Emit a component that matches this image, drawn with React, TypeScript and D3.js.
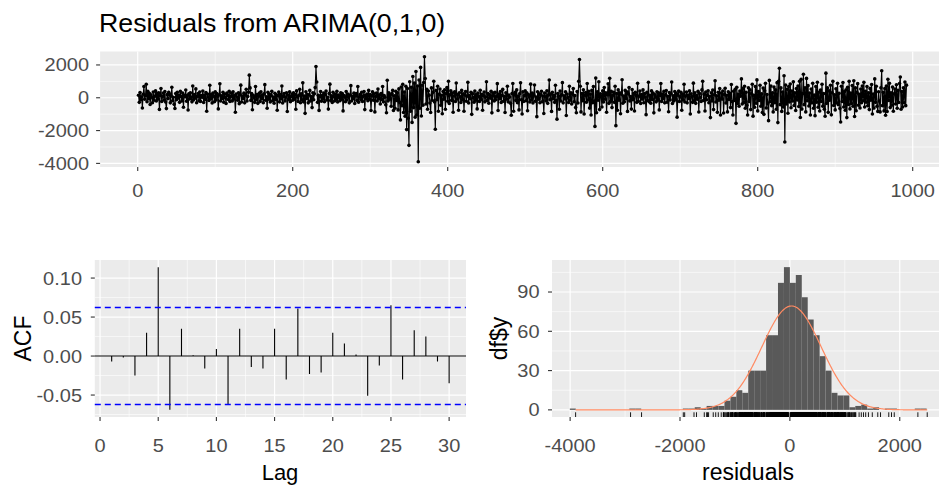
import React from 'react';
import * as d3 from 'd3';

// ---------- DATA ----------
const RESIDUALS: number[] = [
150,-280,320,-120,60,-620,210,690,-90,130,820,-240,390,-60,270,-410,180,40,-300,350,
-150,90,420,-200,250,-80,310,-710,140,560,-230,70,290,-140,380,-260,-660,190,-50,330,
220,-310,110,640,-180,30,-400,-650,260,-120,340,-20,170,-280,400,80,-190,290,-580,150,
60,470,-210,130,-750,240,-70,310,20,-250,720,-140,200,-30,540,-300,90,260,-180,350,
-220,140,30,410,-290,170,-100,320,-820,230,50,-160,760,-60,190,-320,280,100,-240,360,
-130,250,70,-680,180,850,-200,120,-40,330,-270,210,10,-350,290,150,-110,400,-230,80,
270,-190,360,-80,140,-880,230,50,-150,310,-360,190,770,-260,110,-50,280,-310,170,520,
-200,80,340,1380,600,-160,250,-730,150,30,-280,690,-120,200,-340,90,290,-220,370,-60,
160,-300,240,800,-150,60,-640,330,-90,210,-260,140,390,-180,50,-330,270,-120,180,-760,
120,350,-250,190,-70,720,-320,100,260,-190,40,310,-840,170,-100,360,-240,80,230,-150,
300,-80,190,-700,420,60,-220,150,520,-300,240,-130,910,-250,110,-950,360,-40,200,-310,
170,450,-190,80,-600,310,-120,240,620,1900,960,-280,150,-770,60,380,-210,130,-70,290,
-240,190,410,-130,30,-690,260,830,-170,120,-290,340,70,-200,230,-100,400,-260,160,20,
-180,310,-90,250,-800,140,60,-240,380,-140,220,40,-310,170,740,-200,90,-60,280,-350,
130,260,-170,680,-270,50,190,-120,340,-220,100,380,-720,150,-40,230,-180,450,-90,200,
-780,110,360,-150,240,-860,80,290,-200,530,-60,170,-380,260,-110,690,-250,140,30,-430,
-915,1070,-200,310,-90,180,-520,260,450,-780,120,-640,390,-170,300,-740,540,-280,-1350,660,
-480,820,-900,350,-1120,700,-1940,560,-1250,-2900,980,-820,640,-1500,1300,-600,890,-1180,1600,-1050,
720,-3900,1080,-640,1850,-1110,760,-450,930,2500,1170,-380,520,-700,410,160,-320,-900,600,-150,
340,1010,-260,-1915,450,-120,700,-820,210,530,-460,150,-970,380,-90,480,-700,260,620,-210,
1010,-350,180,430,-160,290,-880,110,360,-230,900,-80,200,-760,310,60,-290,450,-130,240,
-820,170,380,-210,90,940,-320,140,-60,330,-1010,250,20,-270,410,-150,190,-680,290,80,
-220,460,-110,210,-760,130,350,-250,40,980,-170,260,-330,180,-20,390,-920,120,280,-190,
340,-120,70,860,-780,220,-60,380,-290,150,510,-210,90,-900,300,-80,700,-250,170,40,
-330,-1070,260,870,-820,190,330,-160,480,-300,100,-740,250,910,-120,-990,360,-230,140,420,
-180,310,-790,200,80,-260,830,-140,290,-320,160,780,-210,40,-1150,370,-90,240,-300,180,
390,-240,110,-960,280,60,-190,430,-340,170,1080,-120,220,-830,330,-60,150,-280,760,-170,
-1303,260,90,-700,410,-200,180,920,-310,120,-70,360,-1080,230,20,-290,700,-150,300,-380,
210,560,-240,130,-600,-915,380,-320,1000,2330,700,-860,250,-180,490,-990,160,320,-270,870,
-140,400,-630,220,-1050,450,-300,680,-200,-1745,1200,-910,360,-150,980,-720,240,90,-560,420,
-260,630,-90,310,-880,180,850,-340,1190,-220,400,-600,150,340,-280,700,-1700,260,-760,480,
-150,300,-970,210,1100,-330,110,-240,450,-60,370,-830,230,620,-190,80,-690,500,-120,260,
-810,340,160,-280,880,-210,90,410,-350,190,-80,480,-300,250,40,-1030,330,-170,950,-240,
150,-330,420,-110,280,-920,200,60,-250,370,-150,310,-740,140,870,-220,230,-60,390,-310,
180,440,-270,90,-850,320,-130,250,960,-350,120,-200,380,-90,270,-1180,160,410,-230,60,
330,-760,200,-140,820,-260,110,350,-310,170,-50,420,-990,240,80,-280,890,-190,300,-340,
140,-90,390,-870,260,30,-230,480,1000,-170,220,-810,350,-120,160,430,-300,90,-1210,310,
-200,470,-720,180,1040,-260,120,-890,340,-150,560,-1050,290,-80,410,-930,200,580,-320,150,
-860,360,-110,270,-600,810,-230,-1050,390,-170,520,-1558,640,-350,230,-520,410,100,1150,-380,
560,-290,700,-640,330,-460,-1050,610,-220,480,-720,260,820,-1120,150,-580,690,-330,1090,-800,
380,-170,760,-520,240,-900,590,-1010,430,880,-620,200,-360,-1395,1060,-240,710,-480,310,-860,
650,-300,480,-700,920,-1515,1000,1800,-420,600,-830,350,-560,1340,-2700,780,-380,520,-940,690,
-250,840,-610,410,-200,970,-470,300,-780,560,-140,720,-530,1000,-1200,1120,-690,250,1430,-420,
600,-860,1180,-180,740,-500,290,-1050,530,-310,880,-640,160,-1090,690,-270,950,-580,340,-810,
470,-230,820,-510,250,-700,-1130,1500,-340,600,-890,420,-150,760,-1040,310,1000,-470,180,-740,
550,-310,880,-420,270,-650,-1480,700,-230,930,-560,380,-760,490,-1210,640,-410,1000,-680,290,
-350,750,-520,1040,-1140,600,-790,330,860,-460,210,-620,530,-300,720,-180,940,-560,400,-270,
680,-490,300,-720,570,-150,810,-990,230,-630,1150,-280,700,-520,-830,360,-200,-860,610,1650,
-480,330,-800,560,-1070,720,-840,1130,-170,880,-600,300,-460,650,-820,240,530,-380,790,-640,
450,-290,870,1260,-700,380,-560,610,-300,960,-480,770
];

const ACF_LAGS = [1,2,3,4,5,6,7,8,9,10,11,12,13,14,15,16,17,18,19,20,21,22,23,24,25,26,27,28,29,30];
const ACF_VALUES = [-0.007,-0.002,-0.025,0.030,0.114,-0.069,0.035,0.001,-0.016,0.009,-0.062,0.035,-0.014,-0.016,0.035,-0.030,0.061,-0.023,-0.021,0.030,0.016,0.002,-0.051,-0.012,0.065,-0.030,0.033,0.025,-0.007,-0.035];

const HIST_FIRST_BIN = -37;
const HIST_BIN_WIDTH = 108.25;
const HIST_COUNTS = [
1,0,0,0,0,0,0,0,0,0,1,1,0,0,0,0,0,0,0,1,1,2,1,3,3,3,7,10,15,13,30,30,30,57,57,97,109,
97,103,86,69,57,41,30,13,11,11,2,3,4,1,2,0,1,1,0,0,0,1,1
];
const NORMAL_MEAN = 30;
const NORMAL_SD = 540;

const TITLE = 'Residuals from ARIMA(0,1,0)';
const TS_X_TICKS = [0, 200, 400, 600, 800, 1000];
const TS_X_MINOR = [100, 300, 500, 700, 900];
const TS_Y_TICKS = [-4000, -2000, 0, 2000];
const TS_Y_MINOR = [-3000, -1000, 1000];
const ACF_X_TICKS = [0, 5, 10, 15, 20, 25, 30];
const ACF_X_MINOR = [2.5, 7.5, 12.5, 17.5, 22.5, 27.5];
const ACF_Y_TICKS = [-0.05, 0, 0.05, 0.1];
const ACF_Y_LABELS = ['-0.05', '0.00', '0.05', '0.10'];
const ACF_Y_MINOR = [-0.075, -0.025, 0.025, 0.075];
const HIST_X_TICKS = [-4000, -2000, 0, 2000];
const HIST_X_MINOR = [-3000, -1000, 1000];
const HIST_Y_TICKS = [0, 30, 60, 90];
const HIST_Y_MINOR = [15, 45, 75, 105];

// ---------- HELPERS ----------
const expand = (lo: number, hi: number, f = 0.05): [number, number] => [lo - (hi - lo) * f, hi + (hi - lo) * f];
const FONT = "'Liberation Sans', Arial, Helvetica, sans-serif";
const TICK_COL = '#4D4D4D';
const TICK_FS = 18.5;
const AXIS_FS = 23;
const SX = 1.08; // horizontal glyph stretch seen in the reference
const crisp = (v: number) => Math.round(v - 0.5) + 0.5;

function SText({ x, y, anchor = 'start', size, fill = '#000', sx = SX, children }: any) {
  return (
    <text transform={`translate(${x},${y}) scale(${sx},1)`} textAnchor={anchor}
      fontFamily={FONT} fontSize={size} fill={fill}>{children}</text>
  );
}

function Grid({ x0, x1, y0, y1, xs, ys, xMinor, yMinor, xMajor, yMajor }: any) {
  return (
    <g>
      <rect x={x0} y={y1} width={x1 - x0} height={y0 - y1} fill="#EBEBEB" />
      {xMinor.map((v: number, i: number) => (
        <line key={'xm' + i} x1={xs(v)} x2={xs(v)} y1={y0} y2={y1} stroke="#fff" strokeWidth={0.6} />
      ))}
      {yMinor.map((v: number, i: number) => (
        <line key={'ym' + i} x1={x0} x2={x1} y1={ys(v)} y2={ys(v)} stroke="#fff" strokeWidth={0.6} />
      ))}
      {xMajor.map((v: number, i: number) => (
        <line key={'xM' + i} x1={xs(v)} x2={xs(v)} y1={y0} y2={y1} stroke="#fff" strokeWidth={1.2} />
      ))}
      {yMajor.map((v: number, i: number) => (
        <line key={'yM' + i} x1={x0} x2={x1} y1={ys(v)} y2={ys(v)} stroke="#fff" strokeWidth={1.2} />
      ))}
    </g>
  );
}

function Axes({ x0, y0, xs, ys, xTicks, yTicks, xLabels, yLabels, xLabelY, yLabelX }: any) {
  return (
    <g>
      {xTicks.map((v: number, i: number) => (
        <g key={'xt' + i}>
          <line x1={xs(v)} x2={xs(v)} y1={y0} y2={y0 + 4} stroke="#333" strokeWidth={1.1} />
          <SText x={xs(v)} y={xLabelY} anchor="middle" size={TICK_FS} fill={TICK_COL}>{xLabels[i]}</SText>
        </g>
      ))}
      {yTicks.map((v: number, i: number) => (
        <g key={'yt' + i}>
          <line x1={x0 - 4} x2={x0} y1={ys(v)} y2={ys(v)} stroke="#333" strokeWidth={1.1} />
          <SText x={yLabelX} y={ys(v) + TICK_FS * 0.35} anchor="end" size={TICK_FS} fill={TICK_COL}>{yLabels[i]}</SText>
        </g>
      ))}
    </g>
  );
}

export default function App() {
  const W = 939, H = 485;
  const n = RESIDUALS.length;

  // ---- top: residual time series ----
  const tX0 = 100.1, tX1 = 944.9, tY0 = 167, tY1 = 51.5;
  const xTs = d3.scaleLinear().domain(expand(1, n)).range([tX0, tX1]);
  const [rmin, rmax] = d3.extent(RESIDUALS) as [number, number];
  const yTs = d3.scaleLinear().domain(expand(rmin, rmax)).range([tY0, tY1]);
  const tsLine = d3.line<number>().x((_, i) => xTs(i + 1)).y((d) => yTs(d))(RESIDUALS) || '';

  // ---- bottom left: ACF ----
  const aX0 = 94.8, aX1 = 466, aY0 = 417, aY1 = 260;
  const ci = 1.959964 / Math.sqrt(n);
  const xAcf = d3.scaleLinear().domain(expand(d3.min(ACF_LAGS)!, d3.max(ACF_LAGS)!)).range([aX0, aX1]);
  const yAcf = d3
    .scaleLinear()
    .domain(expand(Math.min(d3.min(ACF_VALUES)!, -ci), Math.max(d3.max(ACF_VALUES)!, ci)))
    .range([aY0, aY1]);
  const ciPath = [ci, -ci].map((c) => `M${aX0},${crisp(yAcf(c))}H${aX1}`).join('');

  // ---- bottom right: histogram ----
  const hX0 = 552, hX1 = 944.5, hY0 = 417, hY1 = 260;
  const bins = HIST_COUNTS.map((c, j) => ({
    x0: (HIST_FIRST_BIN + j) * HIST_BIN_WIDTH,
    x1: (HIST_FIRST_BIN + j + 1) * HIST_BIN_WIDTH,
    c,
  }));
  const xH = d3.scaleLinear().domain(expand(bins[0].x0, bins[bins.length - 1].x1)).range([hX0, hX1]);
  const yH = d3.scaleLinear().domain(expand(0, d3.max(HIST_COUNTS)!)).range([hY0, hY1]);
  const grid = d3.range(512).map((k) => rmin + ((rmax - rmin) * k) / 511);
  const dnorm = (x: number) =>
    Math.exp(-0.5 * ((x - NORMAL_MEAN) / NORMAL_SD) ** 2) / (NORMAL_SD * Math.sqrt(2 * Math.PI));
  const curve =
    d3
      .line<number>()
      .x((x) => xH(x))
      .y((x) => yH(n * HIST_BIN_WIDTH * dnorm(x)))(grid) || '';
  const rugLen = 0.03 * (hY0 - hY1);

  return (
    <div style={{ position: 'absolute', left: 0, top: 0 }}>
      <svg width={W} height={H} viewBox={`0 0 ${W} ${H}`} style={{ display: 'block', background: '#fff' }}>
        {/* title */}
        <SText x={99} y={32} size={25} sx={1.07}>{TITLE}</SText>

        {/* top panel */}
        <Grid x0={tX0} x1={tX1} y0={tY0} y1={tY1} xs={xTs} ys={yTs}
          xMinor={TS_X_MINOR} yMinor={TS_Y_MINOR} xMajor={TS_X_TICKS} yMajor={TS_Y_TICKS} />
        <path d={tsLine} fill="none" stroke="#000" strokeWidth={1.1} />
        {RESIDUALS.map((d, i) => (
          <circle key={i} cx={xTs(i + 1)} cy={yTs(d)} r={1.8} fill="#000" />
        ))}
        <Axes x0={tX0} y0={tY0} xs={xTs} ys={yTs} xTicks={TS_X_TICKS} yTicks={TS_Y_TICKS}
          xLabels={TS_X_TICKS.map(String)} yLabels={TS_Y_TICKS.map(String)} xLabelY={196.5} yLabelX={89} />

        {/* ACF panel */}
        <Grid x0={aX0} x1={aX1} y0={aY0} y1={aY1} xs={xAcf} ys={yAcf}
          xMinor={ACF_X_MINOR} yMinor={ACF_Y_MINOR} xMajor={ACF_X_TICKS} yMajor={ACF_Y_TICKS} />
        <line x1={aX0} x2={aX1} y1={yAcf(0)} y2={yAcf(0)} stroke="#000" strokeWidth={1.1} />
        {ACF_LAGS.map((l, i) => (
          <line key={l} x1={xAcf(l)} x2={xAcf(l)} y1={yAcf(0)} y2={yAcf(ACF_VALUES[i])} stroke="#000" strokeWidth={1.1} />
        ))}
        <path d={ciPath} fill="none" stroke="rgb(0,0,255)" strokeWidth={1.3} strokeDasharray="6,4" />
        <Axes x0={aX0} y0={aY0} xs={xAcf} ys={yAcf} xTicks={ACF_X_TICKS} yTicks={ACF_Y_TICKS}
          xLabels={ACF_X_TICKS.map(String)} yLabels={ACF_Y_LABELS} xLabelY={452} yLabelX={82} />
        <SText x={280} y={480} anchor="middle" size={22} sx={1.0}>Lag</SText>
        <text transform={`translate(30.5,338.5) rotate(-90)`} textAnchor="middle" fontFamily={FONT} fontSize={AXIS_FS} fill="#000">ACF</text>

        {/* histogram panel */}
        <Grid x0={hX0} x1={hX1} y0={hY0} y1={hY1} xs={xH} ys={yH}
          xMinor={HIST_X_MINOR} yMinor={HIST_Y_MINOR} xMajor={HIST_X_TICKS} yMajor={HIST_Y_TICKS} />
        {bins.filter((b) => b.c > 0).map((b, i) => (
          <rect key={i} x={xH(b.x0)} y={yH(b.c)} width={xH(b.x1) - xH(b.x0)} height={yH(0) - yH(b.c)} fill="#595959" />
        ))}
        <path d={curve} fill="none" stroke="#ff8a62" strokeWidth={1.2} />
        {RESIDUALS.map((d, i) => (
          <line key={'r' + i} x1={xH(d)} x2={xH(d)} y1={hY0} y2={hY0 - rugLen} stroke="#000" strokeWidth={0.9} />
        ))}
        <Axes x0={hX0} y0={hY0} xs={xH} ys={yH} xTicks={HIST_X_TICKS} yTicks={HIST_Y_TICKS}
          xLabels={HIST_X_TICKS.map(String)} yLabels={HIST_Y_TICKS.map(String)} xLabelY={452} yLabelX={539.5} />
        <SText x={748} y={480} anchor="middle" size={AXIS_FS} sx={1.0}>residuals</SText>
        <text transform={`translate(507,338.5) rotate(-90)`} textAnchor="middle" fontFamily={FONT} fontSize={AXIS_FS} fill="#000">df$y</text>
      </svg>
    </div>
  );
}
